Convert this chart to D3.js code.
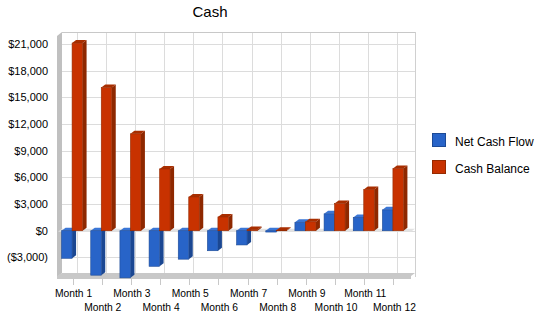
<!DOCTYPE html>
<html>
<head>
<meta charset="utf-8">
<script src="https://cdn.jsdelivr.net/npm/d3@7"></script>
<style>
  body { margin: 0; background: #fff; }
  svg { display: block; font-family: "Liberation Sans", Arial, sans-serif; }
</style>
</head>
<body>
<svg id="chart" width="550" height="318"></svg>
<script>
// data
const months = ['Month 1', 'Month 2', 'Month 3', 'Month 4', 'Month 5', 'Month 6',
                'Month 7', 'Month 8', 'Month 9', 'Month 10', 'Month 11', 'Month 12'];
const netCashFlow = [-3100, -5000, -5300, -4000, -3200, -2250, -1600, -150, 950, 1900, 1500, 2350];
const cashBalance = [21100, 16100, 10900, 6950, 3800, 1550, 150, 50, 1000, 3050, 4650, 7000];
const yTicks = [-3000, 0, 3000, 6000, 9000, 12000, 15000, 18000, 21000];
const seriesNames = ['Net Cash Flow', 'Cash Balance'];

const svg = d3.select('#chart');

// colours: front, side, top
const colors = [
  { front: '#2864c8', side: '#1b4792', top: '#3a76d6', edge: '#1c4a96' },
  { front: '#c83200', side: '#8e2800', top: '#a82e00', edge: '#952a00' }
];

// geometry
const left = 57, right = 407, wallTop = 32, wallBottom = 273, floorY = 277;
const dx = 4, dy = -3;      // bar depth
const gx = 4, gy = -4;      // wall offset

const x = d3.scaleBand().domain(months).range([left + 1, right + 1]);
const y = d3.scaleLinear().domain([-3000, 21000]).range([257.4, 44]);

// back wall
svg.append('rect')
  .attr('x', left + 5).attr('y', wallTop)
  .attr('width', right - left + 3).attr('height', wallBottom - wallTop)
  .attr('fill', '#fff');

// horizontal grid
svg.append('g').selectAll('line').data(yTicks).join('line')
  .attr('x1', left + 5).attr('x2', right + 8)
  .attr('y1', d => Math.round(y(d)) + 0.5).attr('y2', d => Math.round(y(d)) + 0.5)
  .attr('stroke', '#dcdcdc');

// vertical grid on back wall
svg.append('g').selectAll('line').data(months).join('line')
  .attr('x1', d => Math.round(x(d) + x.bandwidth() / 2 + gx) + 0.5)
  .attr('x2', d => Math.round(x(d) + x.bandwidth() / 2 + gx) + 0.5)
  .attr('y1', wallTop).attr('y2', wallBottom)
  .attr('stroke', '#dcdcdc');

// right edge of wall
svg.append('line')
  .attr('x1', right + 8.5).attr('x2', right + 8.5)
  .attr('y1', wallTop).attr('y2', floorY)
  .attr('stroke', '#d0d0d0');
svg.append('line')
  .attr('x1', left + 5).attr('x2', right + 8)
  .attr('y1', wallTop + 0.5).attr('y2', wallTop + 0.5)
  .attr('stroke', '#c8c8c8');

// left wall
svg.append('polygon')
  .attr('points', [[left, wallTop + 4], [left + 5, wallTop], [left + 5, wallBottom], [left, floorY]].join(' '))
  .attr('fill', '#c0c0c0');

// floor
svg.append('polygon')
  .attr('points', [[left, floorY - 1], [left + 5, wallBottom], [right + 8, wallBottom], [right + 4, floorY - 1],
                   [right + 4, floorY + 2], [left, floorY + 2]].join(' '))
  .attr('fill', '#c8c8c8');

// zero plane
const y0 = y(0);
svg.append('polygon')
  .attr('points', [[left + 1, y0 + 1], [left + 5, y0 - 2], [right + 8, y0 - 2], [right + 4, y0 + 1]].join(' '))
  .attr('fill', '#e2e2e2');

// bars
const barW = x.bandwidth() * 0.36;
const bars = [];
months.forEach((m, i) => {
  [netCashFlow[i], cashBalance[i]].forEach((v, s) => {
    const cx = x(m) + x.bandwidth() / 2 - 0.5;
    bars.push({ x0: s === 0 ? cx - barW : cx, v, s });
  });
});

const g = svg.append('g');
bars.forEach(b => {
  const c = colors[b.s];
  const yt = Math.min(y(b.v), y0), yb = Math.max(y(b.v), y0);
  const x0 = b.x0, x1 = b.x0 + barW;
  // side
  g.append('polygon')
    .attr('points', [[x1, yt], [x1 + dx, yt + dy], [x1 + dx, yb + dy], [x1, yb]].join(' '))
    .attr('fill', c.side);
  // top
  g.append('polygon')
    .attr('points', [[x0, yt], [x0 + dx, yt + dy], [x1 + dx, yt + dy], [x1, yt]].join(' '))
    .attr('fill', c.top);
  // front
  g.append('rect')
    .attr('x', x0).attr('y', yt)
    .attr('width', barW).attr('height', Math.max(yb - yt, 0.5))
    .attr('fill', c.front)
    .attr('stroke', c.edge).attr('stroke-width', 0.6);
});

// y labels
svg.append('g').selectAll('text').data(yTicks).join('text')
  .attr('x', 48).attr('y', d => y(d) + 4)
  .attr('text-anchor', 'end')
  .attr('font-size', 11)
  .text(d => d < 0 ? '(' + d3.format('$,')(-d) + ')' : d3.format('$,')(d));

// x ticks
svg.append('g').selectAll('line').data(months).join('line')
  .attr('x1', d => Math.round(x(d) + x.bandwidth() / 2) + 0.5)
  .attr('x2', d => Math.round(x(d) + x.bandwidth() / 2) + 0.5)
  .attr('y1', floorY + 2).attr('y2', floorY + 8)
  .attr('stroke', '#c8c8c8');

// x labels, alternating rows
svg.append('g').selectAll('text').data(months).join('text')
  .attr('x', d => x(d) + x.bandwidth() / 2 + 1)
  .attr('y', (d, i) => i % 2 === 0 ? 297 : 311)
  .attr('text-anchor', 'middle')
  .attr('font-size', 10.3)
  .text(d => d);

// title
svg.append('text')
  .attr('x', 210).attr('y', 17)
  .attr('text-anchor', 'middle')
  .attr('font-size', 15)
  .text('Cash');

// legend
const legend = svg.append('g').selectAll('g').data(seriesNames).join('g')
  .attr('transform', (d, i) => `translate(432,${133 + i * 27})`);
legend.append('rect')
  .attr('x', 0.5).attr('y', 0.5).attr('width', 13).attr('height', 13)
  .attr('fill', (d, i) => colors[i].front)
  .attr('stroke', (d, i) => colors[i].edge);
legend.append('text')
  .attr('x', 23).attr('y', 13)
  .attr('font-size', 12)
  .text(d => d);
</script>
</body>
</html>
